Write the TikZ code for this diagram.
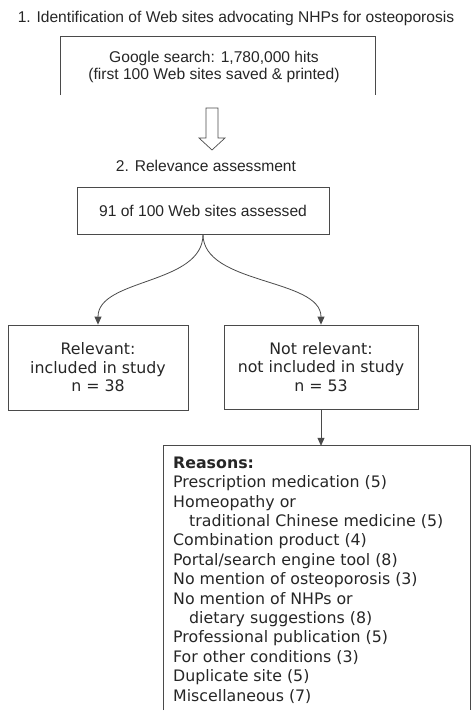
\documentclass[tikz,border=0pt]{standalone}
\usepackage{fontspec}
\setmainfont{Liberation Sans}
\newfontfamily\verd{DejaVu Sans}
\usetikzlibrary{arrows.meta}
\definecolor{ink}{HTML}{262626}
\definecolor{edge}{HTML}{4A4A4A}
\tikzset{
  arialtxt/.style={text=ink, font=\fontsize{15.6}{17}\selectfont, inner sep=0pt, align=center},
  verdtxt/.style={text=ink, font=\verd\fontsize{15.8}{18.5}\selectfont, inner sep=0pt, align=center},
  boxed/.style={draw=edge, line width=0.8pt, inner sep=0pt},
  openbox/.style={draw=edge, line width=0.8pt},
  conn/.style={draw=edge, line width=0.8pt, -{Triangle[length=8pt,width=7pt]}},
}
\begin{document}
\begin{tikzpicture}[x=1pt,y=-1pt]
\useasboundingbox (0,0) rectangle (474,719);
% Step 1
\node[arialtxt, anchor=base] (title) at (236,22.5) {1. Identification of Web sites advocating NHPs for osteoporosis};
\node[inner sep=0pt, minimum width=314pt, minimum height=58pt] (google) at (218,66) {};
\draw[openbox] (google.south west) -- (google.north west) -- (google.north east) -- (google.south east);
\node[arialtxt] (gtext) at (214,66.5) {Google search: 1,780,000 hits\\(first 100 Web sites saved \& printed)};
% hollow arrow
\coordinate (ha1) at (206,108);
\coordinate (ha2) at (218,108);
\coordinate (ha3) at (218,138);
\coordinate (ha4) at (225,138);
\coordinate (ha5) at (212,150);
\coordinate (ha6) at (199,138);
\coordinate (ha7) at (206,138);
\draw[edge, line width=0.7pt, line join=miter] (ha1) -- (ha2) -- (ha3) -- (ha4) -- (ha5) -- (ha6) -- (ha7) -- cycle;
% Step 2
\node[arialtxt] (step2) at (206,166) {2. Relevance assessment};
\node[boxed, arialtxt, minimum width=252pt, minimum height=47pt] (assess) at (203,210.5) {91 of 100 Web sites assessed};
\node[boxed, verdtxt, minimum width=180pt, minimum height=85pt] (rel) at (98,367.5) {Relevant:\\included in study\\n = 38};
\node[boxed, verdtxt, minimum width=194pt, minimum height=84pt] (notrel) at (321,367) {Not relevant:\\not included in study\\n = 53};
\draw[conn] (assess.south) .. controls (203,285) and (98,278) .. (rel.north);
\draw[conn] (assess.south) .. controls (203,285) and (321,278) .. (notrel.north);
% Reasons
\node[inner sep=0pt, minimum width=306pt, minimum height=264pt] (reasons) at (317,578) {};
\draw[openbox] (reasons.south west) -- (reasons.north west) -- (reasons.north east) -- (reasons.south east);
\draw[conn] (notrel.south) -- (notrel.south |- reasons.north);
\node[verdtxt, align=left, anchor=north west, font=\verd\fontsize{15.8}{19.4}\selectfont] (rtext) at (173,456.5) {\textbf{Reasons:}\\
Prescription medication (5)\\
Homeopathy or\\
\hspace*{16pt}traditional Chinese medicine (5)\\
Combination product (4)\\
Portal/search engine tool (8)\\
No mention of osteoporosis (3)\\
No mention of NHPs or\\
\hspace*{16pt}dietary suggestions (8)\\
Professional publication (5)\\
For other conditions (3)\\
Duplicate site (5)\\
Miscellaneous (7)};
\end{tikzpicture}
\end{document}
